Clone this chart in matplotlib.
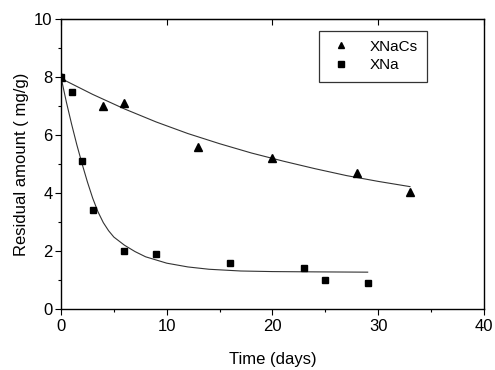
import matplotlib
matplotlib.use("Agg")
import matplotlib.pyplot as plt
from matplotlib.ticker import MultipleLocator

plt.rcParams['font.family'] = ['Liberation Sans', 'DejaVu Sans']

# Measured data
days_xnacs = [0, 4, 6, 13, 20, 28, 33]
res_xnacs = [8.0, 7.0, 7.1, 5.6, 5.2, 4.7, 4.05]

days_xna = [0, 1, 2, 3, 6, 9, 16, 23, 25, 29]
res_xna = [8.0, 7.5, 5.1, 3.4, 2.0, 1.9, 1.6, 1.4, 1.0, 0.9]

# Fitted curves
fit_x_xnacs = [0, 3, 6, 9, 12, 15, 18, 21, 24, 27, 30, 33]
fit_y_xnacs = [7.95, 7.40, 6.90, 6.45, 6.05, 5.70, 5.38, 5.10, 4.84, 4.60, 4.40, 4.22]

fit_x_xna = [0, 0.5, 1, 1.5, 2, 2.5, 3, 3.5, 4, 4.5, 5, 6, 7, 8, 9, 10, 12, 14, 17, 20, 24, 29]
fit_y_xna = [8.0, 7.15, 6.38, 5.66, 5.0, 4.38, 3.82, 3.35, 2.98, 2.70, 2.48, 2.20,
             1.98, 1.80, 1.69, 1.58, 1.45, 1.37, 1.31, 1.29, 1.28, 1.27]

labels = ['XNaCs', 'XNa']

fig = plt.figure(figsize=(4.95, 3.70), dpi=100)
ax = fig.add_axes([0.1232, 0.1649, 0.8546, 0.7837])

ax.plot(fit_x_xnacs, fit_y_xnacs, color='#333333', lw=0.8)
ax.plot(fit_x_xna, fit_y_xna, color='#333333', lw=0.8)
ax.plot(days_xnacs, res_xnacs, linestyle='none', marker='^', color='black',
        markersize=5.8, label=labels[0])
ax.plot(days_xna, res_xna, linestyle='none', marker='s', color='black',
        markersize=4.8, label=labels[1])

ax.set_xlim(0, 40)
ax.set_ylim(0, 10)
ax.xaxis.set_major_locator(MultipleLocator(10))
ax.xaxis.set_minor_locator(MultipleLocator(5))
ax.yaxis.set_major_locator(MultipleLocator(2))
ax.yaxis.set_minor_locator(MultipleLocator(1))
ax.tick_params(axis='both', which='major', direction='out', length=4, width=0.8,
               labelsize=12, colors='black')
ax.tick_params(axis='both', which='minor', direction='out', length=2.5, width=0.8)
ax.tick_params(axis='y', pad=2)

sec = ax.secondary_xaxis('top')
sec.xaxis.set_major_locator(MultipleLocator(10))
sec.tick_params(direction='in', length=4, width=0.8, labeltop=False)

for s in ax.spines.values():
    s.set_linewidth(1.0)

ax.set_xlabel('Time (days)', fontsize=12, labelpad=13)
ax.set_ylabel('Residual amount ( mg/g)', fontsize=12, labelpad=4)

leg = ax.legend(loc='upper right', bbox_to_anchor=(0.865, 0.960), borderaxespad=0,
                fontsize=11, frameon=True, fancybox=False, edgecolor='black',
                handlelength=1.7, handletextpad=1.0, borderpad=0.6, labelspacing=0.3,
                markerscale=0.85)
leg.get_frame().set_linewidth(0.9)

fig.savefig('out.png', dpi=100)
